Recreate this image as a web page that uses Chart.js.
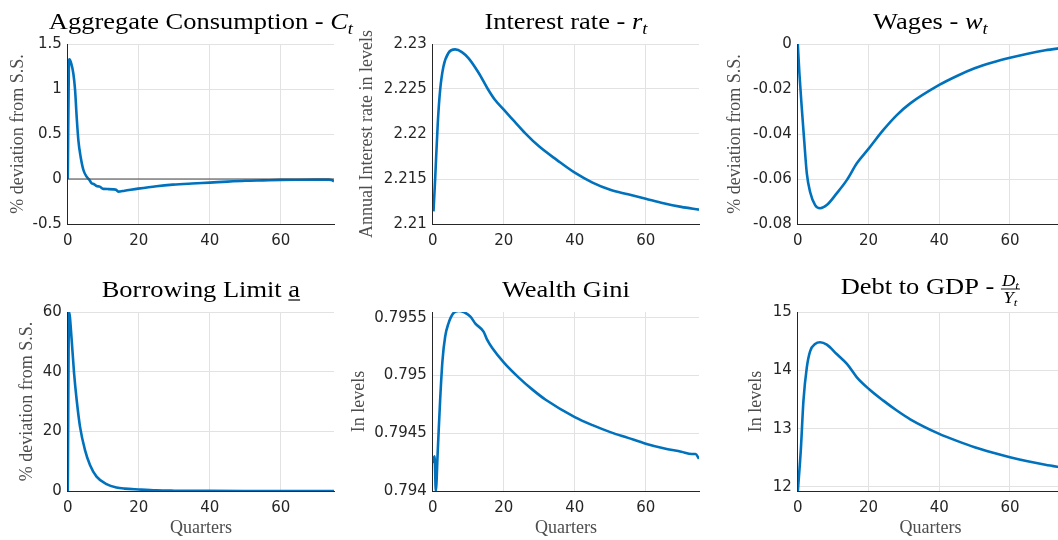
<!DOCTYPE html>
<html>
<head>
  <meta charset="UTF-8">
  <title>Impulse responses</title>
  <script src="https://cdn.jsdelivr.net/npm/chart.js"></script>
  <style>
    body {
      margin: 0;
      width: 1058px;
      height: 540px;
      overflow: hidden;
      position: relative;
      background: #fff;
    }
    canvas { position: absolute; }
  </style>
</head>
<body>
  <canvas id="c1"></canvas>
  <canvas id="c2"></canvas>
  <canvas id="c3"></canvas>
  <canvas id="c4"></canvas>
  <canvas id="c5"></canvas>
  <canvas id="c6"></canvas>

  <script>
    // x axis (quarters) shared by every panel
    const xTicks = [0, 20, 40, 60];

    // Aggregate consumption, % deviation from S.S.
    const consQ = [0, 0.3, 0.45, 1.0, 1.57, 2.05, 2.5, 2.98, 3.6, 4.4, 5.3, 6.1, 6.7, 7.3, 8.1, 9.0, 10.0, 11.5, 12.8, 13.6, 14.2, 16, 19.8, 25, 29.6, 35, 40, 45, 50, 55, 60, 65, 70, 73.5, 74.3, 75];
    const consV = [0, 1.25, 1.33, 1.28, 1.17, 0.99, 0.69, 0.43, 0.25, 0.10, 0.026, -0.011, -0.048, -0.055, -0.078, -0.085, -0.11, -0.112, -0.115, -0.12, -0.14, -0.13, -0.107, -0.08, -0.063, -0.05, -0.04, -0.029, -0.02, -0.015, -0.01, -0.008, -0.007, -0.007, -0.012, -0.026];
    const consTicks = [-0.5, 0, 0.5, 1, 1.5];

    // Interest rate, annual, in levels
    const rateQ = [0.2, 0.65, 1.4, 2.07, 3.0, 4.4, 6.3, 8.2, 10.1, 12.9, 15.5, 17.5, 20, 23, 26, 30, 35, 40, 45, 50, 55, 60, 65, 70, 75];
    const rateV = [2.2114, 2.2149, 2.2212, 2.2249, 2.2275, 2.2290, 2.2294, 2.2291, 2.2284, 2.2268, 2.2250, 2.2238, 2.2227, 2.2214, 2.2201, 2.2186, 2.2171, 2.2157, 2.2146, 2.2138, 2.2133, 2.2128, 2.2123, 2.2119, 2.2116];
    const rateTicks = [2.21, 2.215, 2.22, 2.225, 2.23];

    // Wages, % deviation from S.S.
    const wageQ = [0, 0.45, 1.1, 1.8, 2.55, 3.5, 4.9, 6.3, 8.2, 11.0, 13.9, 16.7, 20.1, 24.2, 28.0, 31.8, 40, 45, 50, 55, 60, 65, 70, 75];
    const wageV = [0, -0.013, -0.0279, -0.0427, -0.0575, -0.0659, -0.0716, -0.0730, -0.0716, -0.0664, -0.0604, -0.053, -0.0464, -0.0382, -0.0316, -0.0264, -0.0182, -0.0142, -0.0108, -0.0082, -0.0061, -0.0043, -0.0028, -0.0017];
    const wageTicks = [-0.08, -0.06, -0.04, -0.02, 0];

    // Borrowing limit, % deviation from S.S.
    const borrQ = [0, 0.35, 1.1, 1.77, 2.5, 3.45, 4.85, 6.25, 8.1, 10.9, 13.7, 16, 20, 25, 30, 40, 50, 60, 75];
    const borrV = [0, 60, 50.5, 39.4, 30.5, 21.5, 13.7, 8.7, 4.8, 2.34, 1.2, 0.8, 0.5, 0.2, 0.1, 0.03, 0.01, 0, 0];
    const borrTicks = [0, 20, 40, 60];

    // Wealth Gini, in levels
    const giniQ = [0, 0.3, 0.5, 0.85, 1.4, 2.07, 2.73, 3.5, 4.4, 5.8, 7.3, 8.7, 10.6, 12, 14.3, 15.3, 16.7, 20.1, 24.3, 28, 31.8, 40, 45, 50, 55, 60, 65, 70, 73, 74, 75];
    const giniV = [0.7943, 0.79425, 0.7943, 0.7940, 0.79435, 0.79479, 0.79513, 0.79534, 0.79545, 0.79554, 0.79556, 0.79555, 0.79551, 0.79545, 0.79538, 0.79531, 0.79524, 0.79511, 0.79498, 0.79488, 0.79479, 0.79464, 0.79457, 0.79451, 0.79446, 0.79441, 0.79437, 0.79434, 0.79432, 0.79432, 0.79428];
    const giniTicks = [0.794, 0.7945, 0.795, 0.7955];

    // Debt to GDP, in levels
    const debtQ = [0, 0.85, 1.6, 2.55, 3.5, 4.9, 6.3, 8.2, 11, 13.9, 16.7, 20.1, 24.2, 28, 31.8, 40, 45, 50, 55, 60, 65, 70, 75];
    const debtV = [11.92, 12.63, 13.48, 14.05, 14.33, 14.45, 14.48, 14.44, 14.28, 14.11, 13.88, 13.68, 13.48, 13.31, 13.16, 12.91, 12.79, 12.68, 12.59, 12.51, 12.44, 12.38, 12.33];
    const debtTicks = [12, 13, 14, 15];

    // titles: [text, style]  i = italic, is = italic subscript, u = underlined
    const consTitle = [['Aggregate Consumption - ', ''], ['C', 'i'], ['t', 'is']];
    const rateTitle = [['Interest rate - ', ''], ['r', 'i'], ['t', 'is']];
    const wageTitle = [['Wages - ', ''], ['w', 'i'], ['t', 'is']];
    const borrTitle = [['Borrowing Limit ', ''], ['a', 'u']];
    const giniTitle = [['Wealth Gini', '']];
    const debtTitle = [['Debt to GDP - ', ''], ['D/Y', 'frac']];

    const SERIF = '"Liberation Serif", "Times New Roman", serif';
    const SANS = '"DejaVu Sans", sans-serif';
    const INK = '#262626';
    const BLUE = '#0072BD';

    function fontFor(style, size) {
      return (style.indexOf('i') >= 0 ? 'italic ' : '') + size + 'px ' + SERIF;
    }

    // width of an italic letter followed by a subscript t
    function partWidth(ctx, base, fs) {
      ctx.font = fontFor('i', fs);
      let w = ctx.measureText(base).width;
      ctx.font = fontFor('i', fs * 0.7);
      return w + ctx.measureText('t').width;
    }
    function drawPart(ctx, base, x, y, fs) {
      ctx.font = fontFor('i', fs);
      ctx.fillText(base, x, y);
      const w = ctx.measureText(base).width;
      ctx.font = fontFor('i', fs * 0.7);
      ctx.fillText('t', x + w, y + fs * 0.22);
    }

    function drawRichTitle(ctx, segs, cx, by, size, sx) {
      ctx.save();
      ctx.fillStyle = '#000';
      ctx.strokeStyle = '#000';
      ctx.textAlign = 'left';
      ctx.textBaseline = 'alphabetic';
      const fracSize = 16;
      const widths = segs.map(([txt, st]) => {
        if (st === 'frac') {
          const [n, d] = txt.split('/');
          return Math.max(partWidth(ctx, n, fracSize), partWidth(ctx, d, fracSize)) + 2;
        }
        ctx.font = fontFor(st, st === 'is' ? size * 0.7 : size);
        return ctx.measureText(txt).width;
      });
      const total = widths.reduce((a, b) => a + b, 0);
      ctx.translate(cx, by);
      ctx.scale(sx, 1);
      let x = -total / 2;
      segs.forEach(([txt, st], i) => {
        const w = widths[i];
        if (st === 'frac') {
          const [n, d] = txt.split('/');
          const wn = partWidth(ctx, n, fracSize), wd = partWidth(ctx, d, fracSize);
          drawPart(ctx, n, x + (w - wn) / 2, -8.5, fracSize);
          drawPart(ctx, d, x + (w - wd) / 2, 8.5, fracSize);
          ctx.lineWidth = 0.9;
          ctx.beginPath();
          ctx.moveTo(x, -5);
          ctx.lineTo(x + w, -5);
          ctx.stroke();
        } else if (st === 'is') {
          ctx.font = fontFor(st, size * 0.7);
          ctx.fillText(txt, x, size * 0.22);
        } else {
          ctx.font = fontFor(st, size);
          ctx.fillText(txt, x, 0);
          if (st === 'u') {
            ctx.lineWidth = 1.2;
            ctx.beginPath();
            ctx.moveTo(x, 3.5);
            ctx.lineTo(x + w, 3.5);
            ctx.stroke();
          }
        }
        x += w;
      });
      ctx.restore();
    }

    const panels = [
      { id: 'c1', q: consQ, v: consV, yMin: -0.5, yMax: 1.5, yTicks: consTicks, yTitle: '% deviation from S.S.', title: consTitle, zero: true,
        L: 68, R: 334, T: 44, B: 224, d: 50, top: 0, titleY: 29, xTitle: false },
      { id: 'c2', q: rateQ, v: rateV, yMin: 2.21, yMax: 2.23, yTicks: rateTicks, yTitle: 'Annual Interest rate in levels', title: rateTitle,
        L: 433, R: 699, T: 44, B: 224, d: 66, top: 0, titleY: 29, xTitle: false },
      { id: 'c3', q: wageQ, v: wageV, yMin: -0.08, yMax: 0, yTicks: wageTicks, yTitle: '% deviation from S.S.', title: wageTitle,
        L: 798, R: 1063, T: 44, B: 224, d: 63, top: 0, titleY: 29, xTitle: false },
      { id: 'c4', q: borrQ, v: borrV, yMin: 0, yMax: 60, yTicks: borrTicks, yTitle: '% deviation from S.S.', title: borrTitle,
        L: 68, R: 334, T: 312, B: 491, d: 41, top: 270, titleY: 296.5, xTitle: true },
      { id: 'c5', q: giniQ, v: giniV, yMin: 0.794, yMax: 0.79555, yTicks: giniTicks, yTitle: 'In levels', title: giniTitle,
        L: 433, R: 699, T: 312, B: 491, d: 74, top: 270, titleY: 296.5, xTitle: true },
      { id: 'c6', q: debtQ, v: debtV, yMin: 11.93, yMax: 15, yTicks: debtTicks, yTitle: 'In levels', title: debtTitle,
        L: 798, R: 1063, T: 312, B: 491, d: 42, top: 270, titleY: 294, xTitle: true }
    ];

    const yTitleSize = 18;
    const padRight = 30;

    panels.forEach(p => {
      const W = p.d + yTitleSize * 1.2 / 2;
      const xH = p.xTitle ? 48 : 40;
      const canvas = document.getElementById(p.id);
      const left = p.L - W;
      canvas.width = Math.round(p.R + padRight - left);
      canvas.height = Math.round(p.B + xH - p.top);
      canvas.style.left = left + 'px';
      canvas.style.top = p.top + 'px';

      const datasets = [];
      if (p.zero) {
        datasets.push({
          data: [{ x: 0, y: 0 }, { x: 75, y: 0 }],
          borderColor: '#444',
          borderWidth: 1,
          pointRadius: 0
        });
      }
      datasets.push({
        data: p.q.map((x, i) => ({ x: x, y: p.v[i] })),
        borderColor: BLUE,
        borderWidth: 2.6,
        pointRadius: 0,
        cubicInterpolationMode: 'monotone'
      });

      const titlePlugin = {
        id: 'richTitle',
        afterDraw(chart) {
          const a = chart.chartArea;
          drawRichTitle(chart.ctx, p.title, (a.left + a.right) / 2, p.titleY - p.top, 23, 1.15);
        }
      };

      new Chart(canvas, {
        type: 'line',
        data: { datasets: datasets },
        options: {
          responsive: false,
          animation: false,
          layout: { padding: { top: p.T - p.top, right: padRight, left: 0, bottom: 0 } },
          plugins: { legend: { display: false }, tooltip: { enabled: false } },
          scales: {
            x: {
              type: 'linear',
              min: 0,
              max: 75,
              afterBuildTicks: s => { s.ticks = xTicks.map(v => ({ value: v })); },
              afterFit: s => { s.height = xH; },
              grid: { color: '#e2e2e2', drawTicks: false },
              border: { color: INK, width: 1 },
              ticks: { padding: 8, color: INK, maxRotation: 0, font: { family: SANS, size: 15 } },
              title: {
                display: p.xTitle,
                text: 'Quarters',
                padding: 0,
                color: '#4d4d4d',
                font: { family: SERIF, size: 18 }
              }
            },
            y: {
              min: p.yMin,
              max: p.yMax,
              afterBuildTicks: s => { s.ticks = p.yTicks.map(v => ({ value: v })); },
              afterFit: s => { s.width = W; },
              grid: { color: '#e2e2e2', drawTicks: false },
              border: { color: INK, width: 1 },
              ticks: {
                padding: 6,
                color: INK,
                font: { family: SANS, size: 15 },
                callback: v => String(v)
              },
              title: {
                display: true,
                text: p.yTitle,
                padding: 0,
                color: '#4d4d4d',
                font: { family: SERIF, size: yTitleSize }
              }
            }
          }
        },
        plugins: [titlePlugin]
      });
    });
  </script>
</body>
</html>
